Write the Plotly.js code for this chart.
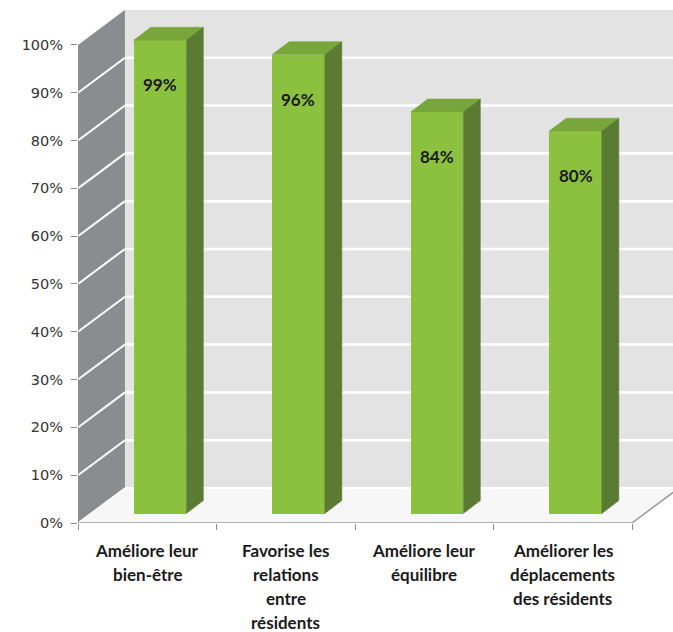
<!DOCTYPE html>
<html>
<head>
<meta charset="utf-8">
<script src="https://cdn.plot.ly/plotly-3.0.1.min.js"></script>
<style>html,body{margin:0;padding:0;background:#fff}</style>
</head>
<body>
<div id="chart" style="width:673px;height:632px"></div>
<script>
// ---- data ----
const categories = [
  "Améliore leur<br>bien-être",
  "Favorise les<br>relations<br>entre<br>résidents",
  "Améliore leur<br>équilibre",
  "Améliorer les<br>déplacements<br>des résidents"
];
const values = [99, 96, 84, 80];
const yTicks = [0, 10, 20, 30, 40, 50, 60, 70, 80, 90, 100];
const yTickLabels = yTicks.map(v => v + "%");

// ---- 3D geometry (style) ----
const XMAX = 4.296, YMAX = 107.3;
const DX = 0.339, DY = 7.32;   // wall depth offset
const FX = 0.092, FY = 1.98;   // bar front-face offset
const BX = 0.123, BY = 2.7;    // bar depth
const BW = 0.38;               // bar width
const FONT = "Lato, 'Open Sans', sans-serif";

const centers = categories.map((c, i) => i + 0.5 + FX);

// front faces
const frontFace = {
  type: "bar", x: centers, y: values, base: values.map(() => FY), width: BW,
  marker: {color: "#8cc13f", line: {width: 0}}, hoverinfo: "skip", showlegend: false
};
// top & side faces
const tx = [], ty = [], sx = [], sy = [];
values.forEach((v, i) => {
  const xl = centers[i] - BW / 2, xr = centers[i] + BW / 2, t = v + FY;
  tx.push(xl, xr, xr + BX, xl + BX, xl, null);
  ty.push(t, t, t + BY, t + BY, t, null);
  sx.push(xr, xr, xr + BX, xr + BX, xr, null);
  sy.push(FY, t, t + BY, FY + BY, FY, null);
});
const topFace = {type: "scatter", mode: "lines", x: tx, y: ty, fill: "toself", fillcolor: "#79a63a",
  line: {color: "#79a63a", width: 0.5}, hoverinfo: "skip", showlegend: false};
const sideFace = {type: "scatter", mode: "lines", x: sx, y: sy, fill: "toself", fillcolor: "#5b7b32",
  line: {color: "#5b7b32", width: 0.5}, hoverinfo: "skip", showlegend: false};

// ---- walls / floor shapes ----
const shapes = [];
shapes.push({type: "path", layer: "below", path: `M ${DX},${DY} L ${XMAX},${DY} L ${XMAX},${100 + DY} L ${DX},${100 + DY} Z`,
  fillcolor: "#e3e3e3", line: {width: 0}});
shapes.push({type: "path", layer: "below", path: `M 0,0 L 0,100 L ${DX},${100 + DY} L ${DX},${DY} Z`,
  fillcolor: "#8a8c8f", line: {width: 0}});
shapes.push({type: "path", layer: "below", path: `M 0,0 L 4,0 L ${4 + DX},${DY} L ${DX},${DY} Z`,
  fillcolor: "#f7f7f7", line: {width: 0}});
yTicks.forEach(v => {
  if (v === 0 || v === 100) return;
  shapes.push({type: "line", layer: "below", x0: 0, y0: v, x1: DX, y1: v + DY, line: {color: "#ffffff", width: 2}});
  shapes.push({type: "line", layer: "below", x0: DX, y0: v + DY, x1: XMAX, y1: v + DY, line: {color: "#ffffff", width: 2.5}});
});
shapes.push({type: "line", layer: "below", x0: DX, y0: DY, x1: XMAX, y1: DY, line: {color: "#ffffff", width: 2}});
shapes.push({type: "line", layer: "below", x0: 0, y0: 0, x1: DX, y1: DY, line: {color: "#ffffff", width: 1.5}});
shapes.push({type: "line", x0: 0, y0: 0, x1: 0, y1: 100, line: {color: "#8a8a8a", width: 1}});
shapes.push({type: "line", x0: 0, y0: 0, x1: 4, y1: 0, line: {color: "#9a9a9a", width: 1.5}});
shapes.push({type: "line", x0: 4, y0: 0, x1: 4 + DX, y1: DY, line: {color: "#9a9a9a", width: 1.5}});

// ---- annotations ----
const annotations = [];
values.forEach((v, i) => {
  annotations.push({x: centers[i], y: v + FY - 9.3, xref: "x", yref: "y", text: "<b>" + v + "%</b>",
    showarrow: false, font: {family: FONT, size: 17, color: "#1a1a1a"}});
});
categories.forEach((c, i) => {
  c.split("<br>").forEach((line, k) => {
    annotations.push({x: i + 0.5, y: 0, xref: "x", yref: "paper", yanchor: "middle",
      yshift: -27 - k * 24, text: "<b>" + line + "</b>", showarrow: false,
      font: {family: FONT, size: 17, color: "#1a1a1a"}});
  });
});

const layout = {
  width: 673, height: 632,
  margin: {l: 78, r: 0, t: 10, b: 109},
  paper_bgcolor: "#ffffff", plot_bgcolor: "rgba(0,0,0,0)",
  xaxis: {range: [0, XMAX], tickvals: [0, 1, 2, 3, 4], ticktext: ["", "", "", "", ""],
    ticks: "outside", ticklen: 6, tickcolor: "#8a8a8a", tickwidth: 1,
    showgrid: false, zeroline: false, showline: false, fixedrange: true},
  yaxis: {range: [0, YMAX], tickvals: yTicks, ticktext: yTickLabels,
    ticks: "outside", ticklen: 6, tickcolor: "#8a8a8a", tickwidth: 1,
    ticklabelstandoff: 5,
    tickfont: {family: "'DejaVu Sans', sans-serif", size: 14.5, color: "#333333"},
    showgrid: false, zeroline: false, showline: false, fixedrange: true},
  shapes: shapes, annotations: annotations, bargap: 0
};

Plotly.newPlot("chart", [frontFace, topFace, sideFace], layout, {staticPlot: true, displayModeBar: false});
</script>
</body>
</html>
